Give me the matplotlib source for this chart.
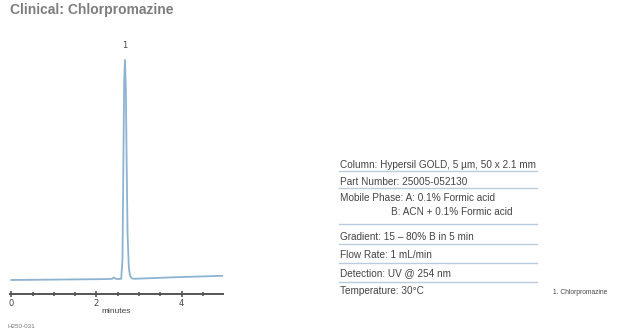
import matplotlib.pyplot as plt

# chromatogram trace (minutes, relative response)
times = [0, 0.5, 1.0, 1.5, 2.0, 2.3, 2.37, 2.41, 2.45, 2.5, 2.58, 2.61, 2.63, 2.65,
         2.67, 2.69, 2.71, 2.73, 2.76, 2.79, 2.83, 2.9, 3.0, 3.5, 4.0, 4.5, 4.96]
signal = [0, 0.2, 0.4, 0.6, 0.8, 1.0, 1.2, 2.6, 1.2, 1.0, 1.2, 20, 110, 200,
          220, 190, 110, 45, 12, 4, 1.6, 1.2, 1.4, 2.2, 3.0, 3.6, 4.2]

peak_labels = ["1"]
peak_times = [2.67]
peak_heights = [220]

x_ticks = [0, 2, 4]

conditions = [
    ("Column: Hypersil GOLD, 5 µm, 50 x 2.1 mm",),
    ("Part Number: 25005-052130",),
    ("Mobile Phase: A: 0.1% Formic acid", "B: ACN + 0.1% Formic acid"),
    ("Gradient: 15 – 80% B in 5 min",),
    ("Flow Rate: 1 mL/min",),
    ("Detection: UV @ 254 nm",),
    ("Temperature: 30°C",),
]
compounds = ["1. Chlorpromazine"]

W, H = 624, 334
fig = plt.figure(figsize=(W / 100, H / 100), dpi=100)
cond = ["Liberation Sans", "DejaVu Sans"]


def px(x, y):
    return x / W, 1 - y / H


ax = fig.add_axes([10 / W, 1 - 294.3 / H, 213 / W, 239.3 / H])
ax.plot(times, signal, color="#8db3d3", lw=1.3)
ax.set_xlim(-0.03, 4.97)
ax.set_ylim(-14.3, 225)
for s in ["top", "right", "left"]:
    ax.spines[s].set_visible(False)
ax.spines["bottom"].set_color("#555555")
ax.spines["bottom"].set_linewidth(1.4)
ax.set_yticks([])
ax.set_xticks(x_ticks)
ax.set_xticks([0.5, 1, 1.5, 2.5, 3, 3.5, 4.5], minor=True)
ax.tick_params(axis="x", which="major", direction="inout", length=5, width=1.2,
               color="#555555", labelsize=6, labelcolor="#444444", pad=1)
ax.tick_params(axis="x", which="minor", direction="inout", length=3, width=1.2,
               color="#555555")
ax.set_xlabel("minutes", fontsize=6, color="#444444", labelpad=0, family=cond)

for lab, t, h in zip(peak_labels, peak_times, peak_heights):
    ax.annotate(lab, (t, h), xytext=(0, 7), textcoords="offset points",
                ha="center", va="bottom", fontsize=6, color="#444444")

fig.text(*px(10, 10), "Clinical: Chlorpromazine", fontsize=10, fontweight="bold",
         color="#7d7d7d", va="center", ha="left", family=cond)
fig.text(*px(8, 327), "H250-031", fontsize=4.5, color="#777777",
         va="center", ha="left", family=cond)

# conditions table
text_y = [165, 182, 198, 236.5, 255, 273, 291.5]
line_y = [170.5, 188.3, 224, 244, 262.7, 281.7]
for row, y in zip(conditions, text_y):
    fig.text(*px(340, y), row[0], fontsize=7.2, color="#444444",
             va="center", ha="left", family=cond)
    if len(row) > 1:
        fig.text(*px(391, y + 14), row[1], fontsize=7.2, color="#444444",
                 va="center", ha="left", family=cond)
for y in line_y:
    fig.add_artist(plt.Line2D([339 / W, 537 / W], [1 - y / H] * 2,
                              color="#b9cbdd", lw=1.0))

for i, c in enumerate(compounds):
    fig.text(*px(553, 292 + i * 9), c, fontsize=4.8, color="#444444",
             va="center", ha="left", family=cond)

fig.savefig("out.png", dpi=100)
